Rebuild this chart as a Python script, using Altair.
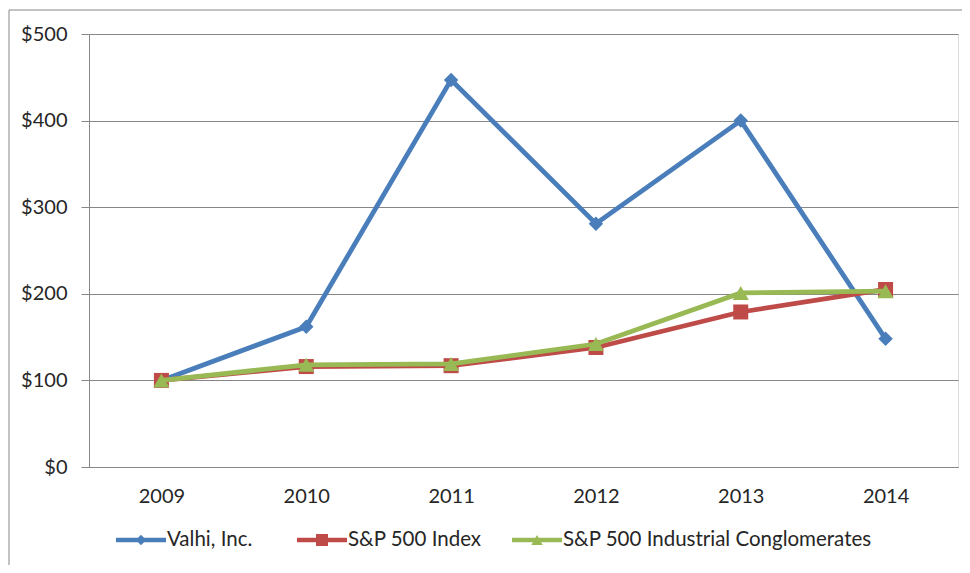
import altair as alt
import pandas as pd

# ---- data ----
years = ["2009", "2010", "2011", "2012", "2013", "2014"]
series_names = ["Valhi, Inc.", "S&P 500 Index", "S&P 500 Industrial Conglomerates"]
valhi = [100, 162, 447, 281, 400, 148]
sp500 = [100, 116, 117, 138, 179, 205]
indus = [100, 118, 119, 142, 201, 203]
y_ticks = [0, 100, 200, 300, 400, 500]

# ---- styling ----
colors = ["#4A7EBB", "#BE4B48", "#98B954"]
marker_shapes = ["diamond", "square", "triangle-up"]
marker_sizes = [210, 225, 260]
legend_marker_sizes = [110, 144, 130]
legend_left = [27, 208, 423]      # legend entry start, px from plot left
LEG_LINE = 50                      # legend line length, px
LEG_Y = 506                        # legend centre, px from plot top

rows = []
for name, vals in zip(series_names, [valhi, sp500, indus]):
    for yr, v in zip(years, vals):
        rows.append({"year": yr, "series": name, "value": v})
df = pd.DataFrame(rows)

leg_df = pd.DataFrame({
    "series": series_names,
    "lx": legend_left,
    "lx2": [v + LEG_LINE for v in legend_left],
    "lm": [v + LEG_LINE / 2 for v in legend_left],
    "lt": [v + LEG_LINE + 1 for v in legend_left],
    "msize": legend_marker_sizes,
})

FONT = "Lato"
GRAY = "#868686"
TXT = "#262626"
FS = 20

x_enc = alt.X(
    "year:O", sort=years,
    scale=alt.Scale(type="point", padding=0.5),
    axis=alt.Axis(title=None, labelAngle=0, ticks=False, grid=False,
                  domainColor=GRAY, labelPadding=19, labelFontSize=FS,
                  labelColor=TXT, labelFont=FONT),
)
y_enc = alt.Y(
    "value:Q",
    scale=alt.Scale(domain=[0, 500], nice=False),
    axis=alt.Axis(title=None, values=y_ticks, labelExpr="'$' + datum.value",
                  grid=True, gridColor=GRAY, tickColor=GRAY, tickSize=8,
                  domainColor=GRAY, labelPadding=14, labelFontSize=FS,
                  labelColor=TXT, labelFont=FONT),
)
color_enc = alt.Color("series:N", scale=alt.Scale(domain=series_names, range=colors), legend=None)
shape_enc = alt.Shape("series:N", scale=alt.Scale(domain=series_names, range=marker_shapes), legend=None)

frame = alt.Chart(alt.Data(values=[{"a": 1}])).mark_rect(
    fill="transparent", stroke=GRAY, strokeWidth=1, clip=False
).encode(x=alt.value(-80), x2=alt.value(1000), y=alt.value(-24), y2=alt.value(700))

layers = [frame]
for name, sz in zip(series_names, marker_sizes):
    base = alt.Chart(df).transform_filter(alt.datum.series == name).encode(
        x=x_enc, y=y_enc, color=color_enc
    )
    layers.append(base.mark_line(strokeWidth=4.8))
    layers.append(base.mark_point(filled=True, opacity=1, size=sz).encode(shape=shape_enc))

# ---- legend (line + marker + label per series) ----
leg_base = alt.Chart(leg_df)
leg_lines = leg_base.mark_rule(strokeWidth=4.5, clip=False).encode(
    x=alt.X("lx:Q", scale=None, axis=None), x2="lx2:Q", y=alt.value(LEG_Y), color=color_enc
)
leg_marks = leg_base.mark_point(filled=True, opacity=1, clip=False).encode(
    x=alt.X("lm:Q", scale=None, axis=None), y=alt.value(LEG_Y), color=color_enc,
    shape=shape_enc, size=alt.Size("msize:Q", scale=None, legend=None),
)
leg_text = leg_base.mark_text(
    align="left", baseline="middle", font=FONT, fontSize=20.5, color=TXT, clip=False
).encode(x=alt.X("lt:Q", scale=None, axis=None), y=alt.value(LEG_Y), text="series:N")
layers += [leg_lines, leg_marks, leg_text]

chart = alt.layer(*layers).properties(
    width=869, height=433,
    autosize=alt.AutoSizeParams(type="none"),
    padding={"left": 81, "top": 26, "right": 4, "bottom": 98},
).configure_view(stroke=None).configure(font=FONT)

chart.save("out.html", embed_options={"renderer": "svg", "actions": False})
